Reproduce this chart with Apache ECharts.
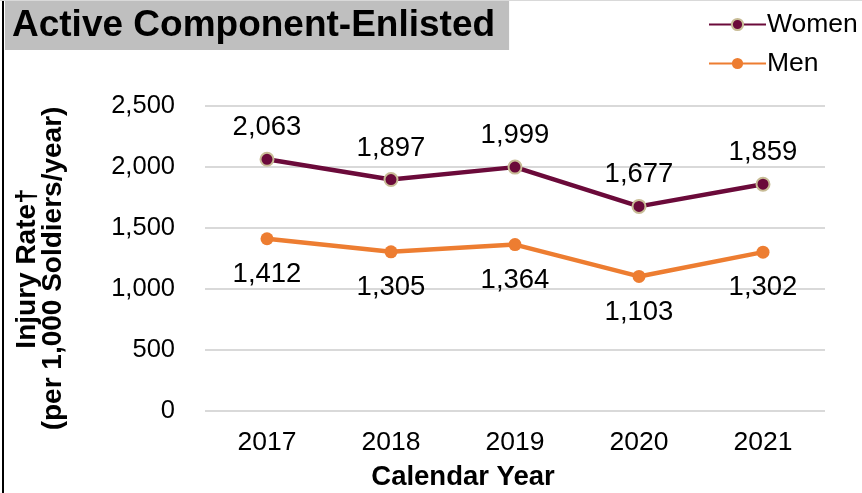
<!DOCTYPE html>
<html><head><meta charset="utf-8">
<script src="https://cdn.jsdelivr.net/npm/echarts@6/dist/echarts.min.js"></script>
<style>html,body{margin:0;padding:0;background:#fff}#c{width:862px;height:493px}</style>
</head><body><div id="c"></div>
<script>
var categories = ['2017', '2018', '2019', '2020', '2021'];
var women = [2063, 1897, 1999, 1677, 1859];
var men = [1412, 1305, 1364, 1103, 1302];
var yTicks = [0, 500, 1000, 1500, 2000, 2500];

var FONT = 'Arial, "Liberation Sans", sans-serif';
var chart = echarts.init(document.getElementById('c'));
chart.setOption({
  animation: false,
  backgroundColor: '#ffffff',
  title: {
    text: 'Active Component-Enlisted',
    left: 5, top: 1,
    backgroundColor: '#bfbfbf',
    padding: [6, 14, 6, 7],
    textStyle: { fontFamily: FONT, fontWeight: 'bold', fontSize: 37, color: '#000' }
  },
  legend: {
    orient: 'vertical',
    left: 703, top: 6,
    itemWidth: 57, itemHeight: 14, itemGap: 12,
    textStyle: { fontFamily: FONT, fontSize: 26.5, color: '#000', padding: [0, 0, 0, -4] },
    data: ['Women', 'Men']
  },
  graphic: [
    { type: 'rect', shape: { x: 2, y: 0, width: 2, height: 493 }, style: { fill: '#000' } },
    { type: 'rect', shape: { x: 0, y: 0, width: 862, height: 1 }, style: { fill: '#d9d9d9' } },
    { type: 'text', x: 463, y: 477, style: { text: 'Calendar Year', fontFamily: FONT, fontWeight: 'bold', fontSize: 27.5, fill: '#000', align: 'center', verticalAlign: 'middle' } }
  ],
  grid: { left: 205, right: 37, top: 106, bottom: 82, containLabel: false },
  xAxis: {
    type: 'category', data: categories, boundaryGap: true,
    axisLine: { show: false }, axisTick: { show: false },
    axisLabel: { fontFamily: FONT, fontSize: 26.5, color: '#000', margin: 18 }
  },
  yAxis: {
    type: 'value', min: yTicks[0], max: yTicks[yTicks.length - 1], interval: 500,
    name: 'Injury Rate†\n(per 1,000 Soldiers/year)',
    nameLocation: 'middle', nameGap: 139, nameRotate: 90,
    nameTextStyle: { fontFamily: FONT, fontWeight: 'bold', fontSize: 28, color: '#000', lineHeight: 26, padding: [0, 20, 0, 0] },
    axisLine: { show: false }, axisTick: { show: false },
    splitLine: { lineStyle: { color: '#d9d9d9', width: 2 } },
    axisLabel: {
      fontFamily: FONT, fontSize: 25.5, color: '#000', margin: 30,
      formatter: function (v) { return v.toLocaleString('en-US'); }
    }
  },
  series: [
    {
      name: 'Women', type: 'line', data: women,
      symbol: 'circle', symbolSize: 13,
      lineStyle: { color: '#6b0a3a', width: 4.5 },
      itemStyle: { color: '#6b0a3a', borderColor: '#c8bc96', borderWidth: 2 },
      label: {
        show: true, position: 'top', distance: 10,
        fontFamily: FONT, fontSize: 27.5, color: '#000',
        formatter: function (p) { return p.value.toLocaleString('en-US'); }
      }
    },
    {
      name: 'Men', type: 'line', data: men,
      symbol: 'circle', symbolSize: 13,
      lineStyle: { color: '#ed7d31', width: 4.5 },
      itemStyle: { color: '#ed7d31' },
      label: {
        show: true, position: 'bottom', distance: 15,
        fontFamily: FONT, fontSize: 27.5, color: '#000',
        formatter: function (p) { return p.value.toLocaleString('en-US'); }
      }
    }
  ]
});
</script></body></html>
